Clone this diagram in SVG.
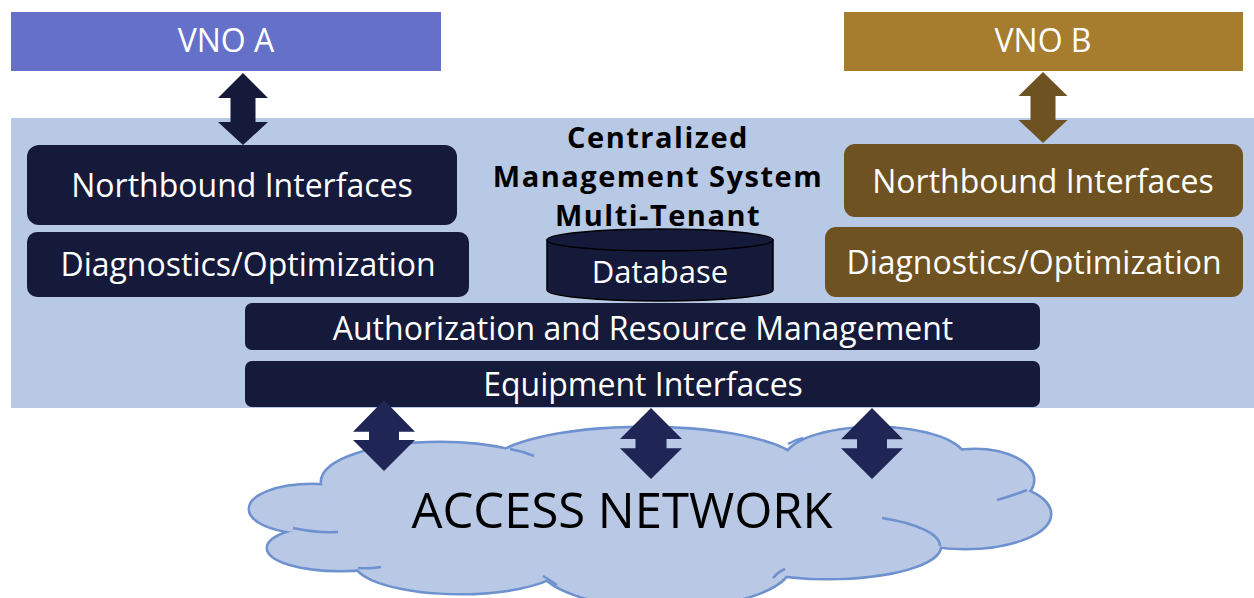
<svg xmlns="http://www.w3.org/2000/svg" width="1254" height="598" viewBox="0 0 1254 598">
<style>
.lbl{font-family:"Open Sans","Liberation Sans",sans-serif;font-size:32px;fill:#ffffff;text-anchor:middle}
.title{font-family:"Open Sans","Liberation Sans",sans-serif;font-size:29px;font-weight:bold;letter-spacing:1.5px;fill:#000000;text-anchor:middle}
.dark{fill:#161A3A}
.brown{fill:#6F5222}
.lobe{fill:#B8C8E5;stroke:#6E91CF;stroke-width:5}
.lobefill{fill:#B8C8E5}
.inner{fill:none;stroke:#6E91CF;stroke-width:2.5}
.arr{fill:#1F2555}
</style>
<rect width="1254" height="598" fill="#ffffff"/>
<g id="panel"><rect x="11" y="118" width="1243" height="290" fill="#B8C9E6"/></g>
<g id="vno-a"><rect x="11" y="12" width="430" height="59" fill="#6571C9"/><text class="lbl" x="226" y="52">VNO A</text></g>
<g id="vno-b"><rect x="844" y="12" width="399" height="59" fill="#A67C2F"/><text class="lbl" x="1043" y="52">VNO B</text></g>
<g id="title"><text class="title" x="658" y="148">Centralized</text><text class="title" x="658" y="187">Management System</text><text class="title" x="658" y="226">Multi-Tenant</text></g>
<g id="nb-a"><rect class="dark" x="27" y="145" width="430" height="80" rx="12"/><text class="lbl" x="242" y="197">Northbound Interfaces</text></g>
<g id="diag-a"><rect class="dark" x="27" y="232" width="442" height="65" rx="10"/><text class="lbl" x="248" y="276">Diagnostics/Optimization</text></g>
<g id="nb-b"><rect class="brown" x="844" y="144" width="399" height="73" rx="11"/><text class="lbl" x="1043" y="193">Northbound Interfaces</text></g>
<g id="diag-b"><rect class="brown" x="825" y="227" width="418" height="70" rx="11"/><text class="lbl" x="1034" y="274">Diagnostics/Optimization</text></g>
<g id="database">
<path d="M547,240 L547,290 A113,11 0 0 0 773,290 L773,240 Z" fill="#161A3A" stroke="#000" stroke-width="1.5"/>
<ellipse cx="660" cy="240" rx="113" ry="11" fill="#161A3A" stroke="#000" stroke-width="1.5"/>
<text class="lbl" x="660" y="283" style="font-size:31px">Database</text>
</g>
<g id="auth"><rect class="dark" x="245" y="303" width="795" height="47" rx="7"/><text class="lbl" x="643" y="340">Authorization and Resource Management</text></g>
<g id="equip"><rect class="dark" x="245" y="361" width="795" height="46" rx="7"/><text class="lbl" x="643" y="396">Equipment Interfaces</text></g>
<g id="cloud">
<g class="lobe">
<ellipse cx="312" cy="509" rx="62" ry="24"/>
<ellipse cx="340" cy="548" rx="72" ry="22"/>
<ellipse cx="440" cy="482" rx="118" ry="39"/>
<ellipse cx="645" cy="467" rx="155" ry="39"/>
<ellipse cx="875" cy="460" rx="90" ry="32"/>
<ellipse cx="975" cy="480" rx="58" ry="30"/>
<ellipse cx="965" cy="514" rx="85" ry="34"/>
<ellipse cx="828" cy="546" rx="112" ry="32"/>
<ellipse cx="460" cy="562" rx="105" ry="31"/>
<ellipse cx="665" cy="565" rx="125" ry="42"/>
</g>
<g class="lobefill">
<ellipse cx="312" cy="509" rx="62" ry="24"/>
<ellipse cx="340" cy="548" rx="72" ry="22"/>
<ellipse cx="440" cy="482" rx="118" ry="39"/>
<ellipse cx="645" cy="467" rx="155" ry="39"/>
<ellipse cx="875" cy="460" rx="90" ry="32"/>
<ellipse cx="975" cy="480" rx="58" ry="30"/>
<ellipse cx="965" cy="514" rx="85" ry="34"/>
<ellipse cx="828" cy="546" rx="112" ry="32"/>
<ellipse cx="460" cy="562" rx="105" ry="31"/>
<ellipse cx="665" cy="565" rx="125" ry="42"/>
<ellipse cx="650" cy="515" rx="330" ry="50"/>
</g>
<g class="inner">
<path d="M293,528 Q315,533 338,532"/>
<path d="M358,568 Q370,569 381,567"/>
<path d="M510,449 Q522,451 534,456"/>
<path d="M543,576 Q550,580 557,585"/>
<path d="M788,444 Q795,440 803,438"/>
<path d="M997,500 Q1012,496 1027,490"/>
<path d="M882,518 A112,32 0 0 1 940,546"/>
<path d="M785,569 Q778,572 773,578"/>
</g>
<text x="622" y="528" style="font-family:'Open Sans','Liberation Sans',sans-serif;font-size:49px;fill:#000;text-anchor:middle">ACCESS NETWORK</text>
</g>
<g id="connectors">
<path class="dark" d="M243,73 L268,98 L255.5,98 L255.5,122 L268,122 L243,145 L218,122 L230.5,122 L230.5,98 L218,98 Z"/>
<path class="brown" d="M1043,72 L1067.5,96 L1055.5,96 L1055.5,120 L1067.5,120 L1043,143 L1018.5,120 L1030.5,120 L1030.5,96 L1018.5,96 Z"/>
<path class="arr" d="M384,400 L415,431.7 L399,431.7 L399,440 L415,440 L384,471 L353,440 L369,440 L369,431.7 L353,431.7 Z"/>
<path class="arr" d="M651,408 L682,439 L666.5,439 L666.5,448.3 L682,448.3 L651,479 L620,448.3 L635.5,448.3 L635.5,439 L620,439 Z"/>
<path class="arr" d="M872,408 L903,439.3 L887,439.3 L887,448.3 L903,448.3 L872,479 L841,448.3 L857,448.3 L857,439.3 L841,439.3 Z"/>
</g>
</svg>
